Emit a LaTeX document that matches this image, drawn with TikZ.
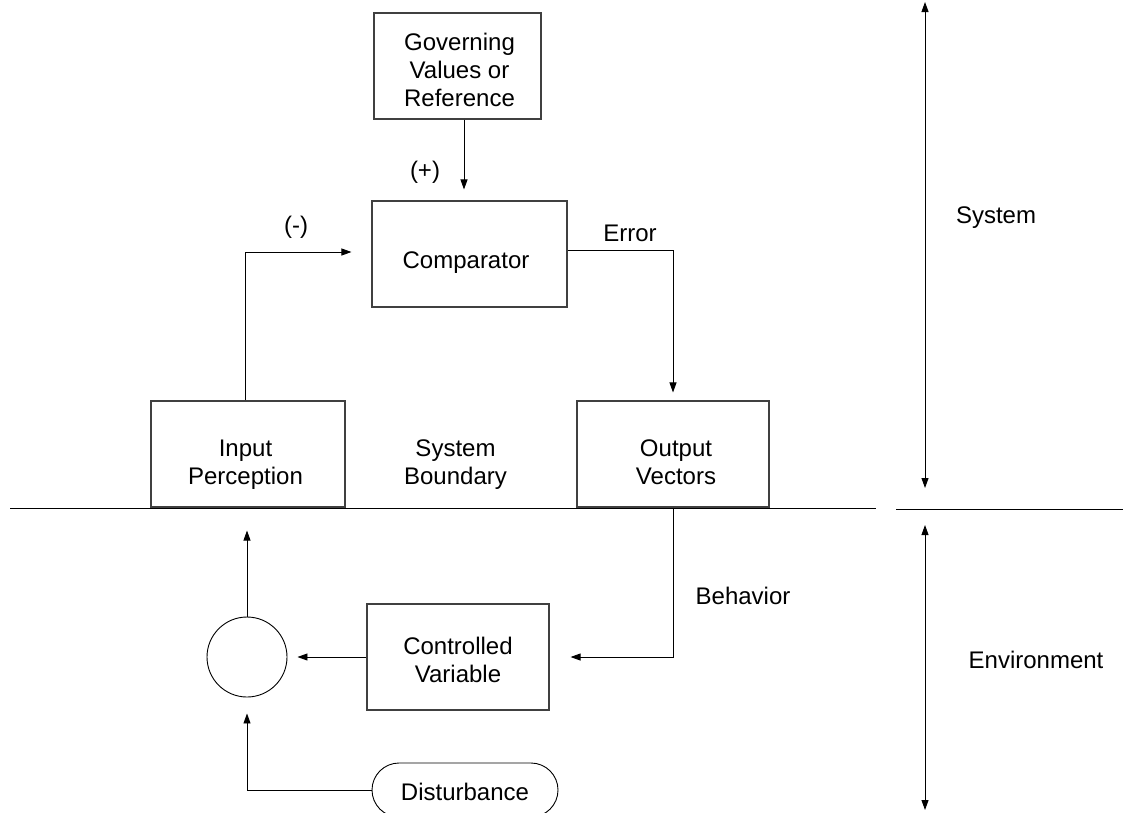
\documentclass[tikz,border=0pt]{standalone}
\usepackage{fontspec}
\setmainfont{Liberation Sans}
\usetikzlibrary{arrows.meta,shapes.misc,calc}
\begin{document}
\begin{tikzpicture}[x=1pt,y=-1pt,
  every node/.style={font=\fontsize{24}{28}\selectfont},
  box/.style={draw=black!75,line width=1.1pt,rectangle,inner sep=0pt},
  arr/.style={line width=0.9pt,-{Triangle[length=10pt,width=7pt]}},
  dbl/.style={line width=0.9pt,{Triangle[length=10pt,width=7pt]}-{Triangle[length=10pt,width=7pt]}},
  lbl/.style={inner sep=0pt,align=center}]
\useasboundingbox (0,0) rectangle (1123,812);
% boxes
\node[box,minimum width=167pt,minimum height=106pt] (gov) at (457.5,66) {};
\node[box,minimum width=195pt,minimum height=106pt] (comp) at (469.5,254) {};
\node[box,minimum width=194pt,minimum height=106pt] (inp) at (248,454) {};
\node[box,minimum width=192pt,minimum height=106pt] (out) at (673,454) {};
\node[box,minimum width=182pt,minimum height=106pt] (cv) at (458,657) {};
\node[draw,line width=0.9pt,circle,minimum size=80pt,inner sep=0pt] (circ) at (247,657) {};
\node[draw,line width=0.9pt,rounded rectangle,minimum width=186pt,minimum height=54pt,inner sep=0pt] (dist) at (465,790) {};
% box texts
\node[lbl] (govt) at (459.5,70) {Governing\\Values or\\Reference};
\node[lbl] (compt) at (466,263) {Comparator};
\node[lbl] (inpt) at (245.5,465) {Input\\Perception};
\node[lbl] (outt) at (676,462) {Output\\Vectors};
\node[lbl] (cvt) at (458,660) {Controlled\\Variable};
\node[lbl] (distt) at (465,792) {Disturbance};
% labels
\node[lbl] (plus) at (425,172) {(+)};
\node[lbl] (minus) at (296,227) {(-)};
\node[lbl] (err) at (630,233.5) {Error};
\node[lbl] (beh) at (743,596) {Behavior};
\node[lbl] (sysb) at (455.5,465) {System\\Boundary};
\node[lbl] (sys) at (996,218) {System};
\node[lbl] (env) at (1036,660) {Environment};
% boundary lines
\coordinate (bl1) at (10,508);
\coordinate (bl2) at (876,508);
\coordinate (bl3) at (896,509);
\coordinate (bl4) at (1123,509);
\draw[line width=0.9pt] (bl1) -- (bl2);
\draw[line width=0.9pt] (bl3) -- (bl4);
% right arrows
\coordinate (sa) at (925,2);
\coordinate (sb) at (925,488);
\coordinate (ea) at (925,525);
\coordinate (eb) at (925,810);
\draw[dbl] (sa) -- (sb);
\draw[dbl] (ea) -- (eb);
% connectors
\coordinate (gx) at (464,0);
\draw[arr,shorten >=11pt] (gov.south -| gx) -- (comp.north -| gx);
\coordinate (ix) at (245,0);
\coordinate (iy) at (0,252);
\draw[arr,shorten >=20pt] (inp.north -| ix) |- (comp.west |- iy);
\coordinate (ey) at (0,250);
\draw[arr,shorten >=8pt] (comp.east |- ey) -| (out.north);
\draw[arr,shorten >=21pt] (out.south) |- (cv.east);
\draw[arr,shorten >=10pt] (cv.west) -- (circ.east);
\draw[arr,shorten >=23pt] (circ.north) -- (circ.north |- inp.south);
\draw[arr,shorten >=16pt] (dist.west) -| (circ.south);
\end{tikzpicture}
\end{document}
